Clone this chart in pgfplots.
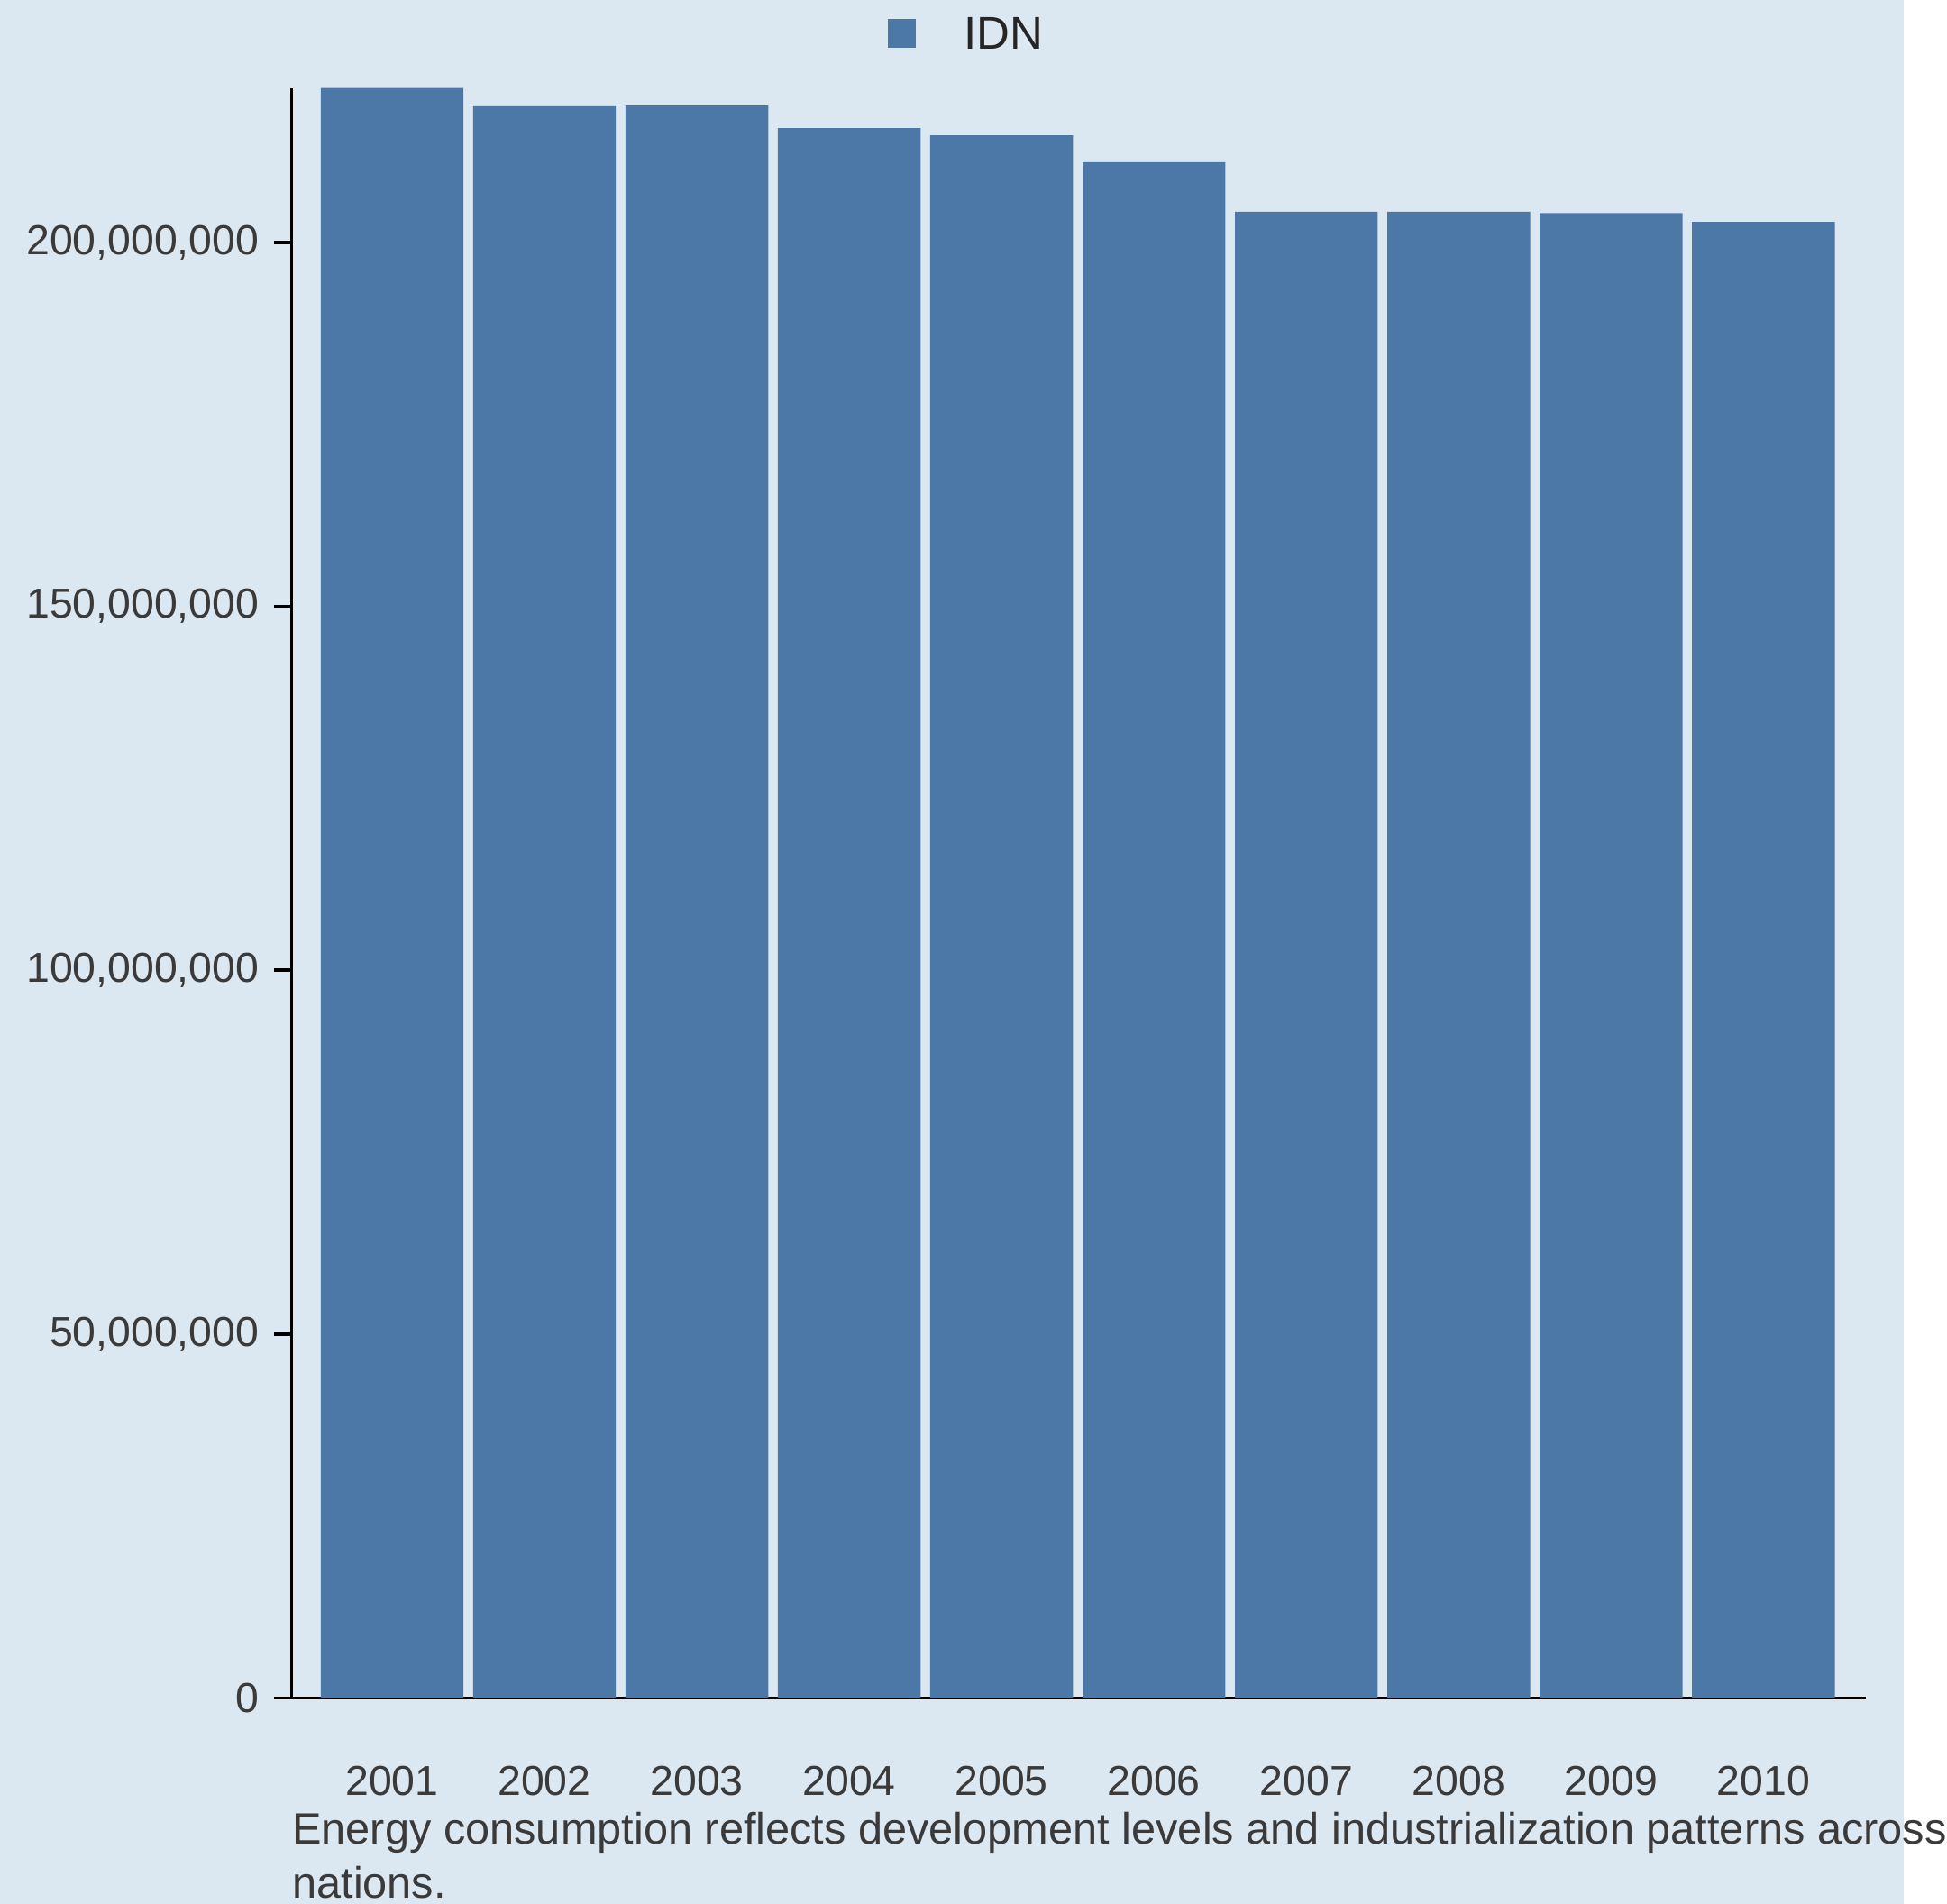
\documentclass[border=0pt]{standalone}
\usepackage{pgfplots}
\pgfplotsset{compat=1.18}
\usepackage{fontspec}
\setmainfont{Liberation Sans}
\definecolor{bg}{HTML}{DCE8F1}
\definecolor{bar}{HTML}{4C78A8}
\definecolor{txt}{HTML}{3A3A3A}
\begin{document}
\begin{tikzpicture}
\fill[bg] (0,0) rectangle (16cm,16cm);
\begin{axis}[
  at={(2.45cm,1.73cm)}, anchor=south west,
  scale only axis, width=13.23cm, height=13.53cm,
  axis lines=left, axis line style={-, black, line width=0.8pt},
  xmin=-0.66, xmax=9.67, ymin=0, ymax=221.2e6,
  ybar, bar width=1.2cm, bar shift=0pt,
  xtick={0,...,9}, xticklabels={2001,2002,2003,2004,2005,2006,2007,2008,2009,2010},
  x tick style={draw=none},
  extra x ticks={-0.5,0.5,...,9.5}, extra x tick labels={},
  extra x tick style={tick style={draw=black, line width=0.8pt}, major tick length=0.15cm, tick align=outside},
  ytick={0,50000000,100000000,150000000,200000000},
  scaled y ticks=false,
  y tick label style={/pgf/number format/.cd, fixed, 1000 sep={,}, assume math mode=true},
  tick align=outside, major tick length=0.15cm,
  y tick style={black, line width=0.8pt},
  ticklabel style={font=\fontsize{10}{12}\selectfont, text=txt},
  x tick label style={yshift=-0.3cm},
]
\addplot[fill=bar, draw=none] coordinates {(0,221.2e6)(1,218.7e6)(2,218.8e6)(3,215.7e6)(4,214.7e6)(5,211.0e6)(6,204.2e6)(7,204.2e6)(8,204.0e6)(9,202.8e6)};
\end{axis}
\fill[bar] (7.46cm,15.6cm) rectangle (7.7cm,15.84cm);
\node[anchor=west, font=\fontsize{11}{13}\selectfont, text=black!85] at (7.98cm,15.72cm) {IDN};
\node[anchor=north west, align=left, font=\fontsize{10.5}{13}\selectfont, text=txt, inner sep=0pt] at (2.45cm,0.78cm) {Energy consumption reflects development levels and industrialization patterns across\\nations.};
\end{tikzpicture}
\end{document}
